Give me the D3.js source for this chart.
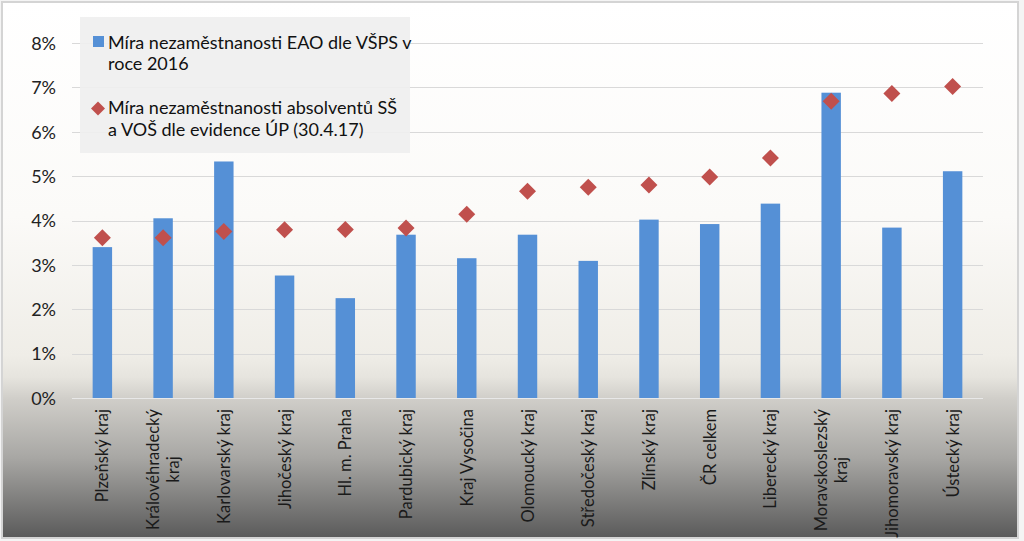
<!DOCTYPE html>
<html><head><meta charset="utf-8">
<script src="https://cdn.jsdelivr.net/npm/d3@7"></script>
<style>html,body{margin:0;padding:0;background:#fff;}svg{display:block;}</style>
</head><body>
<svg id="c" width="1024" height="541"></svg>
<script>
const categories = ["Plzeňský kraj","Královéhradecký kraj","Karlovarský kraj","Jihočeský kraj","Hl. m. Praha","Pardubický kraj","Kraj Vysočina","Olomoucký kraj","Středočeský kraj","Zlínský kraj","ČR celkem","Liberecký kraj","Moravskoslezský kraj","Jihomoravský kraj","Ústecký kraj"];
const labelLines = [["Plzeňský kraj"],["Královéhradecký","kraj"],["Karlovarský kraj"],["Jihočeský kraj"],["Hl. m.  Praha"],["Pardubický kraj"],["Kraj Vysočina"],["Olomoucký kraj"],["Středočeský kraj"],["Zlínský kraj"],["ČR celkem"],["Liberecký kraj"],["Moravskoslezský","kraj"],["Jihomoravský kraj"],["Ústecký kraj"]];
const barValues = [3.40,4.05,5.33,2.76,2.25,3.68,3.15,3.68,3.09,4.02,3.92,4.38,6.88,3.84,5.11];
const diamondValues = [3.61,3.61,3.75,3.79,3.80,3.83,4.14,4.66,4.75,4.80,4.98,5.41,6.69,6.86,7.02];
const yTicks = [0,1,2,3,4,5,6,7,8];
const legendSeries = [["Míra nezaměstnanosti EAO dle VŠPS v","roce 2016"],["Míra nezaměstnanosti absolventů SŠ","a VOŠ dle evidence ÚP (30.4.17)"]];

const FONT = "Lato, 'Open Sans', sans-serif";
const svg = d3.select("#c");
const W = 1024, H = 541;
const m = {left:72, right:983, top:43, bottom:398};

const defs = svg.append("defs");
const g = defs.append("linearGradient").attr("id","bg").attr("x1",0).attr("y1",0).attr("x2",0).attr("y2",1);
[[0,"#ffffff"],[0.40,"#fbfaf8"],[0.66,"#efede7"],[0.70,"#e6e4de"],[0.74,"#d0cec9"],[0.85,"#a8a7a4"],[1,"#5a5a5a"]]
  .forEach(([o,c])=>g.append("stop").attr("offset",o).attr("stop-color",c));

svg.append("rect").attr("x",0).attr("y",0).attr("width",W).attr("height",H).attr("fill","#f4f4f4");
svg.append("rect").attr("x",2).attr("y",2).attr("width",1016).attr("height",536)
  .attr("fill","url(#bg)").attr("stroke","#d4d4d4").attr("stroke-width",2);

const x = d3.scaleBand().domain(categories).range([m.left,m.right]).paddingInner(0.68).paddingOuter(0.34);
const y = d3.scaleLinear().domain([0,8]).range([m.bottom,m.top]);

// gridlines
svg.append("g").selectAll("line").data(yTicks).join("line")
  .attr("x1",m.left).attr("x2",m.right)
  .attr("y1",d=>Math.round(y(d))+0.5).attr("y2",d=>Math.round(y(d))+0.5)
  .attr("stroke",d=>d===0?"#e8e8e8":"#d9d9d9").attr("stroke-width",1);

// y axis labels
const yAxis = d3.axisLeft(y).tickValues(yTicks).tickFormat(d=>d+"%").tickSize(0).tickPadding(0);
const ya = svg.append("g").attr("transform",`translate(56,0)`).call(yAxis);
ya.select(".domain").remove();
ya.selectAll("text").attr("font-family",FONT).attr("font-size",18).attr("fill","#222").attr("dy","0.35em");

// bars
svg.append("g").selectAll("rect").data(categories).join("rect")
  .attr("x",(d)=>x(d)).attr("width",x.bandwidth())
  .attr("y",(d,i)=>y(barValues[i])).attr("height",(d,i)=>y(0)-y(barValues[i]))
  .attr("fill","#5590d6");

// diamonds
const ds = 8.5;
svg.append("g").selectAll("path").data(categories).join("path")
  .attr("d",(d,i)=>{const cx=x(d)+x.bandwidth()/2, cy=y(diamondValues[i]);
    return `M${cx},${cy-ds}L${cx+ds},${cy}L${cx},${cy+ds}L${cx-ds},${cy}Z`;})
  .attr("fill","#c0504d");

// x labels
const xl = svg.append("g");
categories.forEach((c,i)=>{
  const lines = labelLines[i];
  const cx = x(c)+x.bandwidth()/2;
  const grp = xl.append("g");
  const lh = 20;
  const texts = lines.map((t,j)=>grp.append("text").text(t)
    .attr("font-family",FONT).attr("font-size",16.5).attr("fill","#1a1a1a")
    .attr("text-anchor","middle"));
  const maxLen = d3.max(texts,t=>t.node().getComputedTextLength());
  const cy = 409 + maxLen/2;
  const n = lines.length;
  texts.forEach((t,j)=>{
    const off = (j-(n-1)/2)*lh;
    const bx = cx + off + 6;
    t.attr("transform",`translate(${bx},${cy}) rotate(-90)`);
  });
});

// legend
svg.append("rect").attr("x",80).attr("y",17).attr("width",330).attr("height",136).attr("fill","#efefef").attr("fill-opacity",0.92);
svg.append("rect").attr("x",93).attr("y",36).attr("width",11).attr("height",11).attr("fill","#5590d6");
svg.append("path").attr("d",`M98,101.5L105,108.5L98,115.5L91,108.5Z`).attr("fill","#c0504d");
const legY = [[49,70],[114,136]];
legendSeries.forEach((lines,i)=>{
  lines.forEach((t,j)=>{
    svg.append("text").attr("x",108).attr("y",legY[i][j]).text(t)
      .attr("font-family",FONT).attr("font-size",18).attr("fill","#111");
  });
});
</script>
</body></html>
